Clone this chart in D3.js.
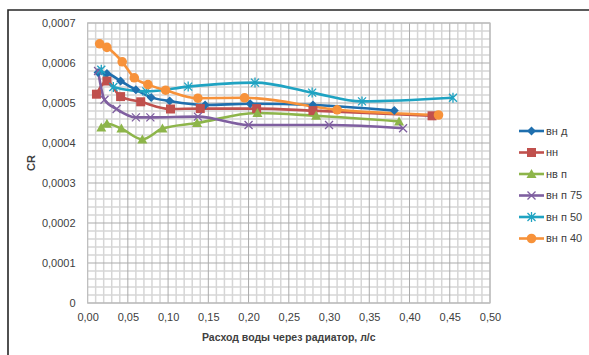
<!DOCTYPE html>
<html><head><meta charset="utf-8">
<script src="https://cdn.jsdelivr.net/npm/d3@7/dist/d3.min.js"></script>
<style>body{margin:0;background:#fff}svg{display:block}text{font-family:"Liberation Sans",Arial,sans-serif}</style>
</head><body>
<svg id="c" width="589" height="355"></svg>
<script>
const seriesNames = ["вн д","нн","нв п","вн п 75","вн п 50","вн п 40"];
const colors = ["#1F6FAE","#C0504D","#8DB54A","#7F5FA0","#1FA3C2","#F7923A"];
const markers = ["diamond","square","triangle","x","asterisk","circle"];
const xVnD = [0.013,0.024,0.041,0.060,0.079,0.102,0.146,0.202,0.280,0.381];
const yVnD = [0.000576,0.000574,0.000555,0.000533,0.000514,0.000505,0.000495,0.000498,0.000495,0.000481];
const xNN = [0.011,0.024,0.041,0.066,0.103,0.140,0.210,0.280,0.428];
const yNN = [0.000522,0.000555,0.000516,0.000503,0.000485,0.000486,0.000486,0.000481,0.000468];
const xNVP = [0.017,0.024,0.042,0.068,0.093,0.136,0.211,0.284,0.387];
const yNVP = [0.000439,0.000448,0.000436,0.000409,0.000436,0.000450,0.000475,0.000468,0.000454];
const xVnP75 = [0.013,0.021,0.036,0.060,0.078,0.137,0.200,0.300,0.392];
const yVnP75 = [0.000580,0.000508,0.000485,0.000464,0.000464,0.000466,0.000445,0.000445,0.000437];
const xVnP50 = [0.017,0.032,0.073,0.125,0.208,0.279,0.341,0.454];
const yVnP50 = [0.000583,0.000540,0.000529,0.000541,0.000551,0.000526,0.000504,0.000513];
const xVnP40 = [0.015,0.024,0.043,0.058,0.075,0.097,0.137,0.195,0.310,0.436];
const yVnP40 = [0.000648,0.000639,0.000603,0.000563,0.000546,0.000532,0.000512,0.000513,0.000483,0.000470];
const xTicks = [0,0.05,0.10,0.15,0.20,0.25,0.30,0.35,0.40,0.45,0.50];
const yTicks = [0,0.0001,0.0002,0.0003,0.0004,0.0005,0.0006,0.0007];
const xTitle = "Расход воды через радиатор, л/с";
const yTitle = "CR";

const xs=[xVnD,xNN,xNVP,xVnP75,xVnP50,xVnP40], ys=[yVnD,yNN,yNVP,yVnP75,yVnP50,yVnP40];
const series = seriesNames.map((n,i)=>({name:n,color:colors[i],marker:markers[i],pts:xs[i].map((x,j)=>[x,ys[i][j]])}));

const svg=d3.select("#c");
const L=87.6,R=490,T=23,B=303;
const x=d3.scaleLinear().domain([0,0.5]).range([L,R]);
const y=d3.scaleLinear().domain([0,0.0007]).range([B,T]);

// frame
svg.append("path").attr("d","M8,355V10H589").attr("fill","none").attr("stroke","#262626").attr("stroke-width",1.6);

// minor grid
const g=svg.append("g");
d3.range(0,51).forEach(i=>{ if(i%5) g.append("line").attr("x1",x(i/100)).attr("x2",x(i/100)).attr("y1",T).attr("y2",B).attr("stroke","#d6d6d6").attr("stroke-width",1.5);});
d3.range(0,36).forEach(i=>{ if(i%5) g.append("line").attr("y1",y(i*0.00002)).attr("y2",y(i*0.00002)).attr("x1",L).attr("x2",R).attr("stroke","#d6d6d6").attr("stroke-width",1.5);});
// major grid
xTicks.forEach(t=>g.append("line").attr("x1",x(t)).attr("x2",x(t)).attr("y1",T).attr("y2",B).attr("stroke","#ababab").attr("stroke-width",1));
yTicks.forEach(t=>g.append("line").attr("y1",y(t)).attr("y2",y(t)).attr("x1",L).attr("x2",R).attr("stroke","#ababab").attr("stroke-width",1));
g.append("rect").attr("x",L).attr("y",T).attr("width",R-L).attr("height",B-T).attr("fill","none").attr("stroke","#bfbfbf").attr("stroke-width",1.2);

// axes labels
const fmtX=d=>d3.format(".2f")(d).replace(".",",");
const fmtY=d=>d===0?"0":d3.format(".4f")(d).replace(".",",");
const xa=d3.axisBottom(x).tickValues(xTicks).tickFormat(fmtX).tickSize(0).tickPadding(10);
const ya=d3.axisLeft(y).tickValues(yTicks).tickFormat(fmtY).tickSize(0).tickPadding(12);
const gx=svg.append("g").attr("transform",`translate(0,${B})`).call(xa);
const gy=svg.append("g").attr("transform",`translate(${L},0)`).call(ya);
[gx,gy].forEach(a=>{a.select(".domain").remove();a.selectAll("text").attr("font-size",11).attr("fill","#404040").style("font-family","'Liberation Sans',Arial,sans-serif");});

svg.append("text").attr("x",(L+R)/2).attr("y",341).attr("text-anchor","middle").attr("font-size",10.5).attr("font-weight","bold").attr("fill","#404040").text(xTitle);
svg.append("text").attr("transform",`translate(35,${(T+B)/2}) rotate(-90)`).attr("text-anchor","middle").attr("font-size",11).attr("font-weight","bold").attr("fill","#404040").text(yTitle);

function drawMarker(sel,type,color){
  if(type==="diamond") sel.append("path").attr("d","M0,-4.5L4.5,0L0,4.5L-4.5,0Z").attr("fill",color);
  else if(type==="square") sel.append("rect").attr("x",-4.5).attr("y",-4.5).attr("width",9).attr("height",9).attr("fill",color);
  else if(type==="triangle") sel.append("path").attr("d","M0,-5L5,4L-5,4Z").attr("fill",color);
  else if(type==="circle") sel.append("circle").attr("r",4.8).attr("fill",color);
  else if(type==="x") sel.append("path").attr("d","M-4,-4L4,4M-4,4L4,-4").attr("stroke",color).attr("stroke-width",1.3).attr("fill","none");
  else if(type==="asterisk") sel.append("path").attr("d","M-4,-4L4,4M-4,4L4,-4M0,-5V5").attr("stroke",color).attr("stroke-width",1.3).attr("fill","none");
}

const line=d3.line().x(d=>x(d[0])).y(d=>y(d[1])).curve(d3.curveMonotoneX);
series.forEach(s=>{
  svg.append("path").attr("d",line(s.pts)).attr("fill","none").attr("stroke",s.color).attr("stroke-width",2.6).attr("stroke-linejoin","round");
});
series.forEach(s=>{
  s.pts.forEach(p=>{ const m=svg.append("g").attr("transform",`translate(${x(p[0])},${y(p[1])})`); drawMarker(m,s.marker,s.color); });
});

// legend
series.forEach((s,i)=>{
  const yy=131+i*21.5;
  const lg=svg.append("g");
  lg.append("line").attr("x1",519).attr("x2",544).attr("y1",yy).attr("y2",yy).attr("stroke",s.color).attr("stroke-width",2.6);
  drawMarker(lg.append("g").attr("transform",`translate(531.5,${yy})`),s.marker,s.color);
  lg.append("text").attr("x",546).attr("y",yy).attr("dy","0.35em").attr("font-size",11).attr("fill","#404040").text(s.name);
});
</script>
</body></html>
